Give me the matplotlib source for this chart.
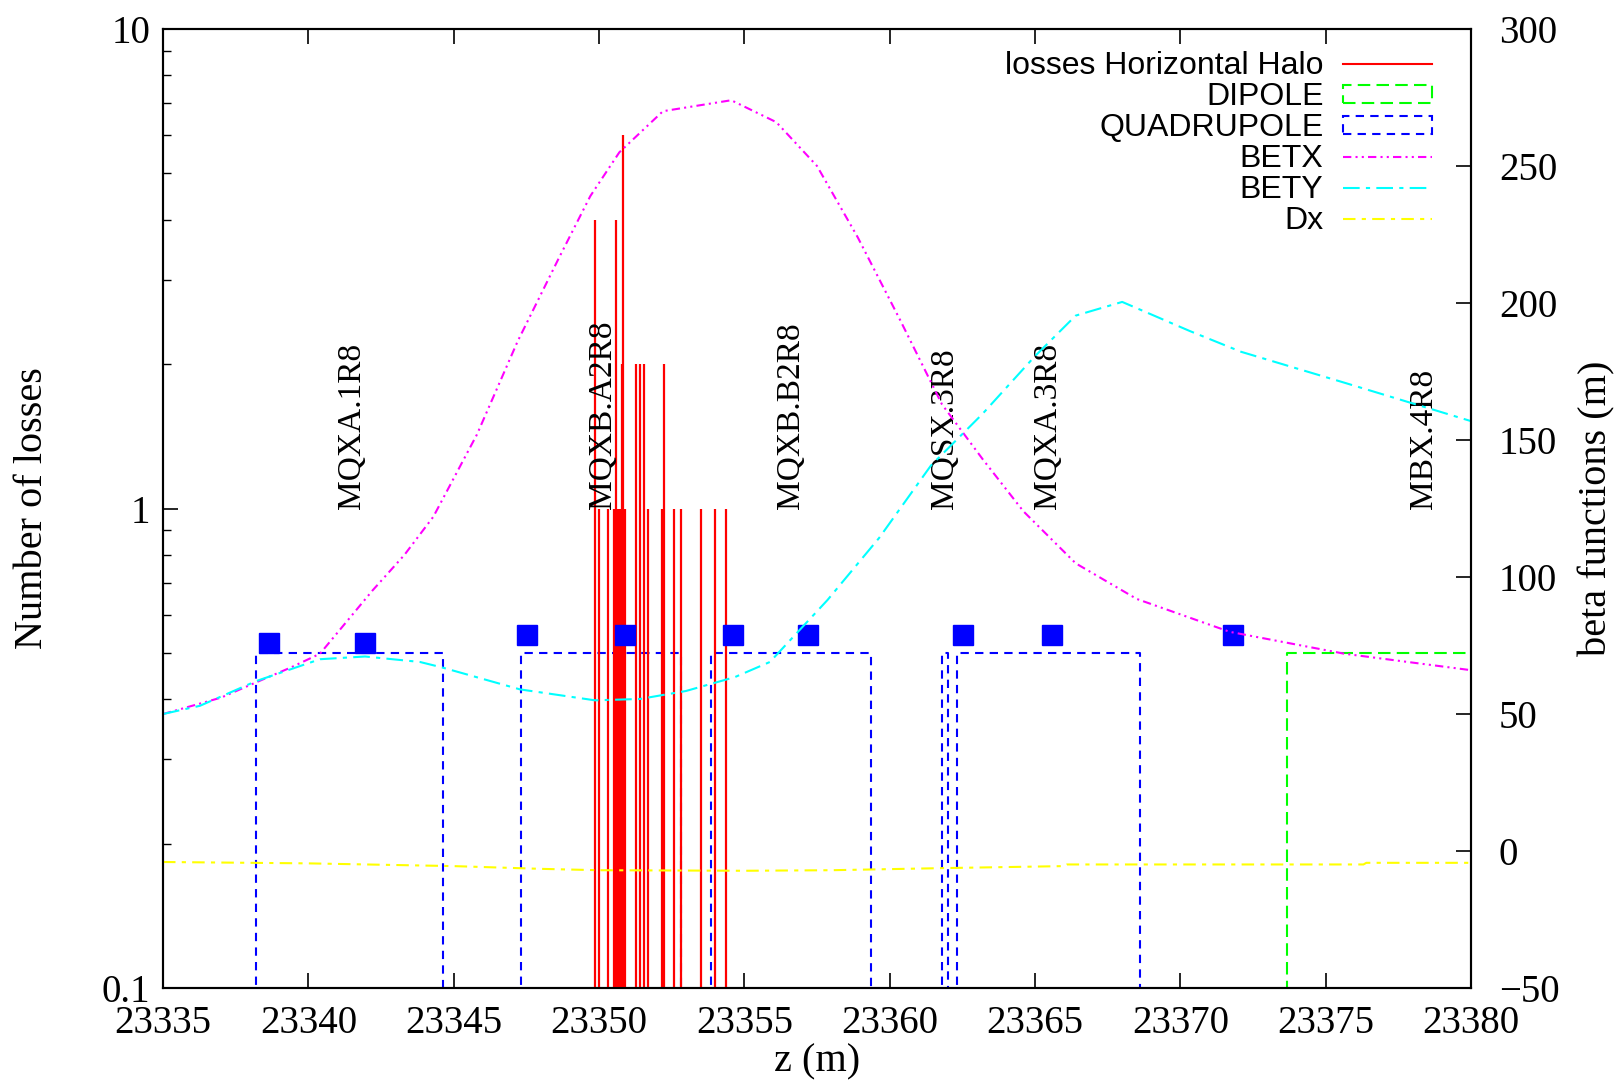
import matplotlib
matplotlib.use('Agg')
import matplotlib.pyplot as plt
from matplotlib.lines import Line2D
from matplotlib.patches import Rectangle

plt.rcParams['font.family'] = ['Liberation Serif', 'DejaVu Serif']

# losses (impulses)
loss_z = [23349.86, 23350.00, 23350.30, 23350.51, 23350.57, 23350.66, 23350.72,
          23350.78, 23350.83, 23350.89, 23351.27, 23351.41, 23351.55, 23351.69,
          23352.18, 23352.25, 23352.59, 23352.82, 23353.51, 23353.99, 23354.36]
loss_n = [4, 1, 1, 1, 4, 1, 1, 2, 6, 1, 2, 2, 2, 1, 1, 2, 1, 1, 1, 1, 1]

# magnet apertures
quad_start = [23338.21, 23347.33, 23353.87, 23361.80, 23362.30]
quad_end = [23344.62, 23352.82, 23359.35, 23362.01, 23368.61]
dip_start = [23373.66]
dip_end = [23386.0]
elem_top = 0.5

# blue squares
bpm_z = [23338.66, 23341.95, 23347.51, 23350.89, 23354.61, 23357.18, 23362.51, 23365.59, 23371.82]
bpm_y = [0.525, 0.525, 0.545, 0.545, 0.545, 0.545, 0.545, 0.545, 0.545]

# element names
name_z = [23341.5, 23350.14, 23356.61, 23361.88, 23365.44, 23378.39]
name_txt = ['MQXA.1R8', 'MQXB.A2R8', 'MQXB.B2R8', 'MQSX.3R8', 'MQXA.3R8', 'MBX.4R8']

# optics (right axis)
betx_z = [23335.0, 23337.0, 23338.3, 23339.4, 23340.4, 23342.2, 23343.3, 23344.3, 23345.8,
          23347.2, 23348.6, 23349.7, 23350.7, 23352.2, 23354.55, 23356.1, 23357.5, 23358.9,
          23360.35, 23361.8, 23363.2, 23364.6, 23366.4, 23368.5, 23371.7, 23375.65, 23380.0]
betx = [50, 56, 62, 67, 72, 95, 108, 122, 152, 186, 216, 239, 255, 270, 274, 266, 250, 224,
        194, 163, 143, 124, 105, 92, 80, 72, 66]

bety_z = [23335.0, 23336.27, 23338.2, 23340.4, 23341.95, 23343.84, 23344.6, 23347.28, 23349.86,
          23351.41, 23352.99, 23354.68, 23355.88, 23357.86, 23359.64, 23361.42, 23363.2,
          23364.98, 23366.4, 23368.0, 23370.32, 23372.09, 23375.65, 23380.0]
bety = [50, 53, 62, 70, 71, 69, 67, 59, 55, 55.5, 58.4, 63.5, 69, 91.6, 114.3, 140.7, 159.6,
        180.4, 195.4, 200.4, 189.8, 182.2, 170.9, 156.9]

dx_z = [23335, 23340, 23345, 23348, 23350, 23355, 23358, 23362, 23366.0, 23366.1, 23376.3, 23376.4, 23380]
dx = [-4, -4.5, -5.5, -6.5, -7, -7.2, -7, -6.2, -5.5, -4.9, -4.9, -4.3, -4.3]

fig = plt.figure(figsize=(16.22, 10.86), dpi=100)
ax = fig.add_axes([0.1005, 0.0902, 0.8064, 0.8831])
ax2 = ax.twinx()

ax.set_yscale('log')
ax.set_xlim(23335, 23380)
ax.set_ylim(0.1, 10)
ax2.set_ylim(-50, 300)

# losses
ax.vlines(loss_z, 0.01, loss_n, color='#ff0000', lw=1.6, zorder=3)

# apertures as open boxes
for s, e in zip(quad_start, quad_end):
    ax.plot([s, s, e, e], [0.01, elem_top, elem_top, 0.01], color='#0000ff', lw=1.5,
            linestyle=(0, (4, 3)), zorder=2)
for s, e in zip(dip_start, dip_end):
    ax.plot([s, s, e, e], [0.01, elem_top, elem_top, 0.01], color='#00ff00', lw=1.5,
            linestyle=(0, (6, 3)), zorder=2)

ax.plot(bpm_z, bpm_y, 's', color='#0000ff', ms=15, zorder=4)

for z, t in zip(name_z, name_txt):
    ax.text(z, 1.0, t, rotation=90, ha='center', va='bottom', fontsize=24, zorder=5)

ax2.plot(betx_z, betx, color='#ff00ff', lw=1.5, linestyle=(0, (4, 2, 1, 2, 1, 2)))
ax2.plot(bety_z, bety, color='#00ffff', lw=1.5, linestyle=(0, (8, 3, 2, 3)))
ax2.plot(dx_z, dx, color='#ffff00', lw=1.5, linestyle=(0, (6, 3, 2, 3)))

# axes styling
ax.set_xticks(range(23335, 23381, 5))
ax.set_xticklabels([str(v) for v in range(23335, 23381, 5)])
ax.set_yticks([0.1, 1, 10])
ax.set_yticklabels(['0.1', '1', '10'])
ax.tick_params(axis='both', which='major', direction='in', length=11, width=1.2,
               labelsize=28, top=True)
ax.tick_params(axis='x', pad=12)
ax.tick_params(axis='y', pad=9)
ax.tick_params(axis='y', which='minor', direction='in', length=6, width=1.0, labelleft=False)
ax2.set_yticks(range(-50, 301, 50))
ax2.tick_params(axis='y', direction='in', length=11, width=1.2, labelsize=28, pad=20)
for a in (ax, ax2):
    for sp in a.spines.values():
        sp.set_linewidth(1.5)

ax.set_xlabel('z (m)', fontsize=29)
ax.xaxis.set_label_coords(0.5, -0.058)
ax.set_ylabel('Number of losses', fontsize=29)
ax.yaxis.set_label_coords(-0.086, 0.5)
ax2.set_ylabel('beta functions (m)', fontsize=29)
ax2.yaxis.set_label_coords(1.082, 0.5)

handles = [
    Line2D([], [], color='#ff0000', lw=1.5),
    Rectangle((0, 0), 1, 1, fill=False, edgecolor='#00ff00', lw=1.5, linestyle=(0, (6, 3))),
    Rectangle((0, 0), 1, 1, fill=False, edgecolor='#0000ff', lw=1.5, linestyle=(0, (4, 3))),
    Line2D([], [], color='#ff00ff', lw=1.5, linestyle=(0, (4, 2, 1, 2, 1, 2))),
    Line2D([], [], color='#00ffff', lw=1.5, linestyle=(0, (8, 3, 2, 3))),
    Line2D([], [], color='#ffff00', lw=1.5, linestyle=(0, (6, 3, 2, 3))),
]
labels = ['losses Horizontal Halo', 'DIPOLE', 'QUADRUPOLE', 'BETX', 'BETY', 'Dx']
leg = ax2.legend(handles, labels, loc='upper right', bbox_to_anchor=(0.98, 0.99),
                 markerfirst=False, frameon=False, handlelength=2.8, handleheight=0.5,
                 handletextpad=0.6, labelspacing=0.03, borderaxespad=0.0,
                 prop={'family': 'Liberation Sans', 'size': 23})

fig.savefig('out.png', dpi=100)
